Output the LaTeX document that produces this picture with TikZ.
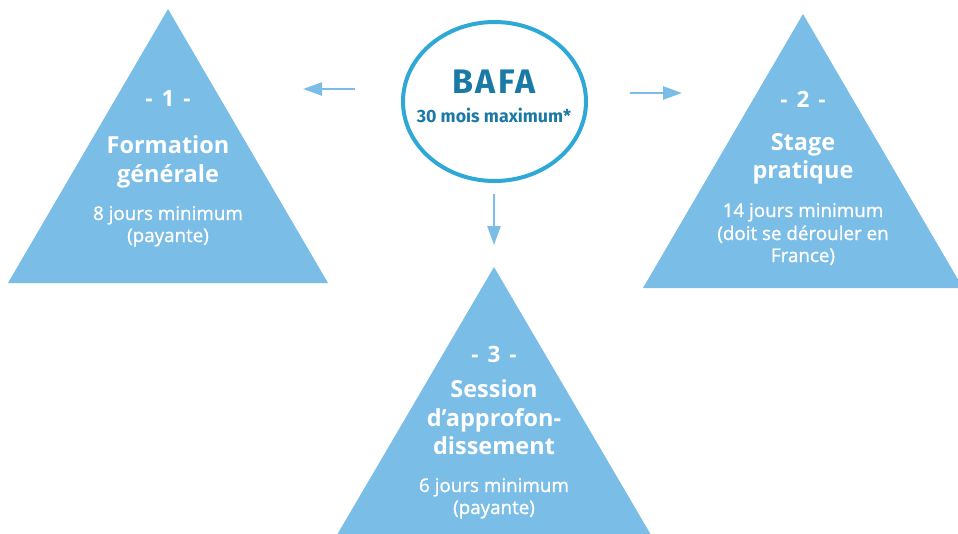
\documentclass[tikz,border=0pt]{standalone}
\usepackage{fontspec}
\setmainfont{Open Sans}
\newfontfamily\dinfont[LetterSpace=8]{Fira Sans}
\newfontfamily\dinsub{Fira Sans}
\newfontfamily\semifont[FakeBold=1.2]{Open Sans}
\newcommand{\wsp}{\spaceskip=0.4em\relax}
\usetikzlibrary{arrows.meta,shapes.geometric}
\definecolor{triblue}{HTML}{7ABDE6}
\definecolor{ringblue}{HTML}{2EA8D6}
\definecolor{darkblue}{HTML}{1B79A6}
\tikzset{
  tri/.style={fill=triblue},
  num/.style={anchor=base, text=white, font=\fontsize{22.5}{26}\selectfont\bfseries},
  ttl/.style={anchor=base, text=white, font=\fontsize{23.5}{26}\selectfont\bfseries},
  det/.style={anchor=base, text=white, font=\semifont\fontsize{18.8}{22}\selectfont},
  arr/.style={draw=triblue, line width=2.5pt, -{Triangle[length=19pt,width=13pt]}}
}
\begin{document}
\begin{tikzpicture}[x=1pt,y=-1pt]
\useasboundingbox (0,0) rectangle (958,533);
% triangles
\fill[tri] (168,9) -- (328,283) -- (8,283) -- cycle;
\fill[tri] (803,14) -- (963,288) -- (643,288) -- cycle;
\fill[tri] (494,267) -- (654,540) -- (334,540) -- cycle;
% central ellipse
\node[draw=ringblue, line width=4pt, ellipse, minimum width=183pt, minimum height=159pt, inner sep=0pt] (bafa) at (494.5,101.5) {};
\node[anchor=base, text=darkblue, font=\dinfont\fontsize{34}{36}\selectfont\bfseries] (bafat) at (494,93) {BAFA};
\node[anchor=base, text=darkblue, font=\dinsub\fontsize{17.8}{20}\selectfont\bfseries] (bafas) at (494,122) {30 mois maximum*};
% triangle 1 text
\node[num] (n1) at (168,106) {\wsp - 1 -};
\node[ttl] (t1a) at (168,153) {Formation};
\node[ttl] (t1b) at (168,182) {générale};
\node[det] (d1a) at (168,220) {8 jours minimum};
\node[det] (d1b) at (168,242) {(payante)};
% triangle 2 text
\node[num] (n2) at (803,107) {\wsp - 2 -};
\node[ttl] (t2a) at (803,150) {Stage};
\node[ttl] (t2b) at (803,178) {pratique};
\node[det] (d2a) at (803,217) {14 jours minimum};
\node[det] (d2b) at (803,240) {(doit se dérouler en};
\node[det] (d2c) at (803,262) {France)};
% triangle 3 text
\node[num] (n3) at (494,362) {\wsp - 3 -};
\node[ttl] (t3a) at (494,397) {Session};
\node[ttl] (t3b) at (494,426) {d’approfon-};
\node[ttl] (t3c) at (494,454) {dissement};
\node[det] (d3a) at (494,492) {6 jours minimum};
\node[det] (d3b) at (494,514) {(payante)};
% arrows
\coordinate (la) at (355,89);
\coordinate (lb) at (303,89);
\coordinate (ra) at (630,93);
\coordinate (rb) at (682,93);
\coordinate (da) at (494,194);
\coordinate (db) at (494,245);
\draw[arr] (la) -- (lb);
\draw[arr] (ra) -- (rb);
\draw[arr] (da) -- (db);
\end{tikzpicture}
\end{document}
